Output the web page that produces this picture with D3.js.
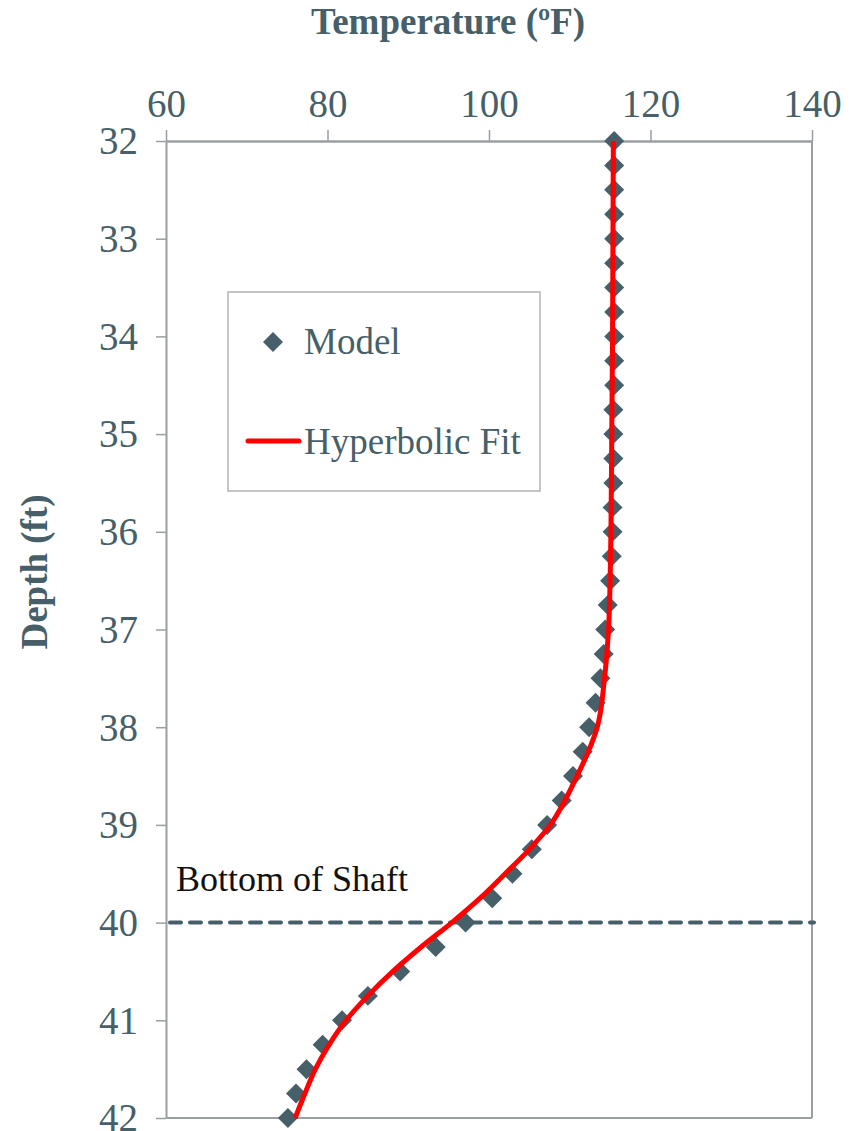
<!DOCTYPE html>
<html>
<head>
<meta charset="utf-8">
<script src="https://cdn.jsdelivr.net/npm/d3@7"></script>
<style>
  html, body { margin: 0; padding: 0; background: #fff; }
  svg { display: block; }
  svg text { font-family: "Liberation Serif", "Times New Roman", serif !important; }
</style>
</head>
<body>
<svg id="chart" width="856" height="1131"></svg>
<script>
// Model temperatures at 0.25 ft depth steps
const modelDepth = [32, 32.25, 32.5, 32.75, 33, 33.25, 33.5, 33.75, 34, 34.25, 34.5, 34.75,
  35, 35.25, 35.5, 35.75, 36, 36.25, 36.5, 36.75, 37, 37.25, 37.5, 37.75, 38, 38.25, 38.5,
  38.75, 39, 39.25, 39.5, 39.75, 40, 40.25, 40.5, 40.75, 41, 41.25, 41.5, 41.75, 42];
const modelTemp = [115.5, 115.5, 115.5, 115.5, 115.5, 115.5, 115.5, 115.5, 115.5, 115.5, 115.5, 115.4,
  115.4, 115.4, 115.4, 115.3, 115.3, 115.2, 115.0, 114.7, 114.4, 114.2, 113.8, 113.2, 112.4, 111.6, 110.4,
  109.0, 107.2, 105.3, 102.9, 100.4, 97.1, 93.4, 89.0, 85.0, 81.8, 79.4, 77.4, 76.1, 75.1];

// Hyperbolic fit curve
const fitDepth = [32, 33, 34, 35, 36, 36.5, 37, 37.5, 38, 38.25, 38.5, 38.75, 39, 39.25, 39.5,
  39.75, 40, 40.25, 40.5, 40.75, 41, 41.25, 41.5, 41.75, 42];
const fitTemp = [115.4, 115.35, 115.3, 115.2, 115.1, 115.0, 114.8, 114.3, 113.4, 112.3, 110.9, 109.4,
  107.6, 105.0, 102.0, 98.9, 95.4, 91.6, 88.1, 85.0, 82.3, 80.2, 78.5, 77.2, 76.0];

const xTicks = [60, 80, 100, 120, 140];
const yTicks = [32, 33, 34, 35, 36, 37, 38, 39, 40, 41, 42];
const shaftBottom = 40;

const textColor = "#465f69";
const markColor = "#465f69";
const axisColor = "#9a9fa2";

const svg = d3.select("#chart");
const plotL = 166, plotR = 812, plotT = 141, plotB = 1118;

const x = d3.scaleLinear().domain([60, 140]).range([plotL, plotR]);
const y = d3.scaleLinear().domain([32, 42]).range([plotT, plotB]);

// Frame (right and bottom edges)
svg.append("line").attr("x1", plotR).attr("x2", plotR).attr("y1", plotT).attr("y2", plotB)
  .attr("stroke", axisColor).attr("stroke-width", 2);
svg.append("line").attr("x1", plotL).attr("x2", plotR).attr("y1", plotB).attr("y2", plotB)
  .attr("stroke", axisColor).attr("stroke-width", 2);

// Top temperature axis
const xAxis = svg.append("g").attr("transform", `translate(0,${plotT})`)
  .call(d3.axisTop(x).tickValues(xTicks).tickSize(11).tickPadding(13).tickSizeOuter(0));
xAxis.attr("font-family", null);
xAxis.select(".domain").attr("stroke", axisColor).attr("stroke-width", 2.5);
xAxis.selectAll(".tick line").attr("stroke", axisColor).attr("stroke-width", 1.5);
xAxis.selectAll(".tick text").attr("fill", textColor).attr("font-size", 39).attr("dy", "0");

// Left depth axis
const yAxis = svg.append("g").attr("transform", `translate(${plotL},0)`)
  .call(d3.axisLeft(y).tickValues(yTicks).tickSize(10).tickPadding(18).tickSizeOuter(0));
yAxis.attr("font-family", null);
yAxis.select(".domain").attr("stroke", axisColor).attr("stroke-width", 2);
yAxis.selectAll(".tick line").attr("stroke", axisColor).attr("stroke-width", 1.5);
yAxis.selectAll(".tick text").attr("fill", textColor).attr("font-size", 39).attr("dy", "0.33em");

// Axis titles
svg.append("text").attr("x", 448).attr("y", 34).attr("text-anchor", "middle")
  .attr("fill", textColor).attr("font-size", 37).attr("font-weight", "bold")
  .text("Temperature (ºF)");
svg.append("text").attr("transform", "translate(47,572) rotate(-90)").attr("text-anchor", "middle")
  .attr("fill", textColor).attr("font-size", 37).attr("font-weight", "bold")
  .text("Depth (ft)");

// Bottom-of-shaft marker line
svg.append("line").attr("x1", plotL + 4).attr("x2", plotR + 2)
  .attr("y1", y(shaftBottom)).attr("y2", y(shaftBottom))
  .attr("stroke", markColor).attr("stroke-width", 4)
  .attr("stroke-linecap", "round").attr("stroke-dasharray", "11 9");
svg.append("text").attr("x", 176).attr("y", 891).attr("fill", "#111")
  .attr("font-size", 36).text("Bottom of Shaft");

// Model points
const diamond = d3.symbol().type(d3.symbolSquare).size(200);
svg.append("g").selectAll("path").data(modelDepth).join("path")
  .attr("d", diamond())
  .attr("transform", (d, i) => `translate(${x(modelTemp[i])},${y(d)}) rotate(45)`)
  .attr("fill", markColor);

// Fit curve
const fitLine = d3.line().x((d, i) => x(fitTemp[i])).y(d => y(d)).curve(d3.curveMonotoneY);
svg.append("path").datum(fitDepth).attr("d", fitLine)
  .attr("fill", "none").attr("stroke", "#ff0000").attr("stroke-width", 5);

// Legend
const lg = svg.append("g");
lg.append("rect").attr("x", 228).attr("y", 292).attr("width", 312).attr("height", 199)
  .attr("fill", "#fff").attr("stroke", "#b3b3b3").attr("stroke-width", 1.5);
lg.append("path").attr("d", diamond()).attr("transform", "translate(273,342) rotate(45)")
  .attr("fill", markColor);
lg.append("text").attr("x", 304).attr("y", 354).attr("fill", textColor).attr("font-size", 37)
  .text("Model");
lg.append("line").attr("x1", 248).attr("x2", 299).attr("y1", 441).attr("y2", 441)
  .attr("stroke", "#ff0000").attr("stroke-width", 5).attr("stroke-linecap", "round");
lg.append("text").attr("x", 304).attr("y", 454).attr("fill", textColor).attr("font-size", 37)
  .text("Hyperbolic Fit");
</script>
</body>
</html>
